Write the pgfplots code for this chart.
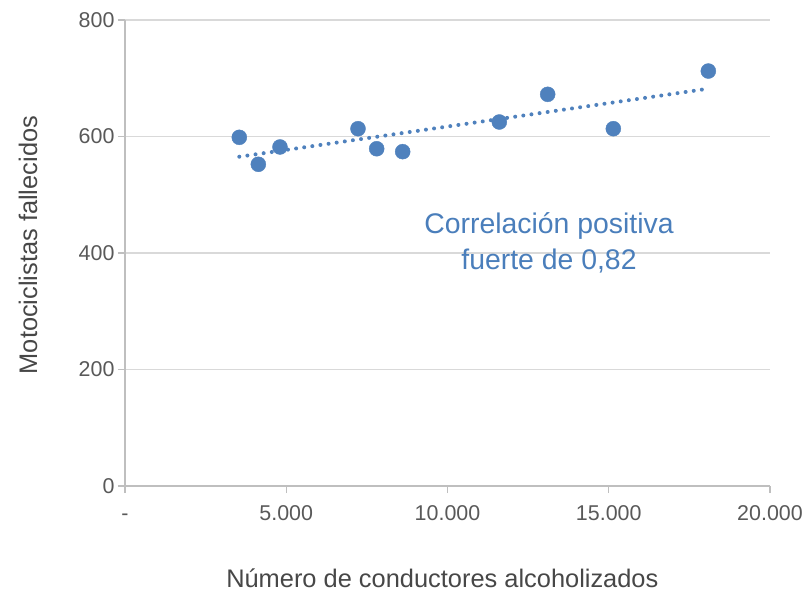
\documentclass[border=0pt]{standalone}
\usepackage{pgfplots}
\pgfplotsset{compat=1.18}
\usepackage{fontspec}
\setmainfont{Liberation Sans}
\definecolor{ptblue}{HTML}{4F81BD}
\definecolor{txtblue}{HTML}{4A7EBB}
\definecolor{gridgray}{HTML}{D9D9D9}
\definecolor{axgray}{HTML}{BFBFBF}
\definecolor{lblgray}{HTML}{595959}
\begin{document}
\begin{tikzpicture}
\path[use as bounding box] (-125bp,-105bp) rectangle (687bp,486bp);
\begin{axis}[
  at={(0,0)}, anchor=south west,
  scale only axis,
  width=645bp, height=466bp,
  xmin=0, xmax=20000, ymin=0, ymax=800,
  axis x line=bottom, axis y line=left,
  axis line style={-, draw=axgray, line width=1.2bp},
  scaled x ticks=false, scaled y ticks=false,
  xtick={0,5000,10000,15000,20000},
  xticklabels={-,5.000,10.000,15.000,20.000},
  ytick={0,200,400,600,800},
  yticklabels={0,200,400,600,800},
  tick align=outside,
  major tick length=7bp,
  tick style={draw=axgray, line width=1.2bp},
  ymajorgrids,
  grid style={draw=gridgray, line width=1.2bp},
  ticklabel style={font=\fontsize{21.5}{26}\selectfont, text=lblgray},
  xticklabel style={yshift=-8bp, text height=16bp, text depth=0bp},
  xlabel={Número de conductores alcoholizados},
  ylabel={Motociclistas fallecidos},
  label style={font=\fontsize{25.5}{30}\selectfont, text=lblgray!80!black},
  xlabel style={at={(axis description cs:0.492,-0.1974)}, anchor=center},
  ylabel style={at={(axis description cs:-0.1504,0.517)}, anchor=center},
  clip=false,
]
\addplot[draw=ptblue, line width=4bp, line cap=round, dash pattern=on 0bp off 8.2bp]
  coordinates {(3544,565.3) (18088,682.1)};
\addplot[only marks, mark=*, mark size=7.5bp, mark options={fill=ptblue, draw=ptblue}]
  coordinates {
  (3544,598.6) (4134,552.3) (4806,582) (7225,613.4) (7804,579)
  (8610,574) (11607,624.9) (13106,672.4) (15142,613.4) (18088,712.4)
  };
\node[align=center, text=txtblue, font=\fontsize{28.5}{36.5}\selectfont]
  at (axis cs:13147,417) {Correlación positiva\\fuerte de 0,82};
\end{axis}
\end{tikzpicture}
\end{document}
